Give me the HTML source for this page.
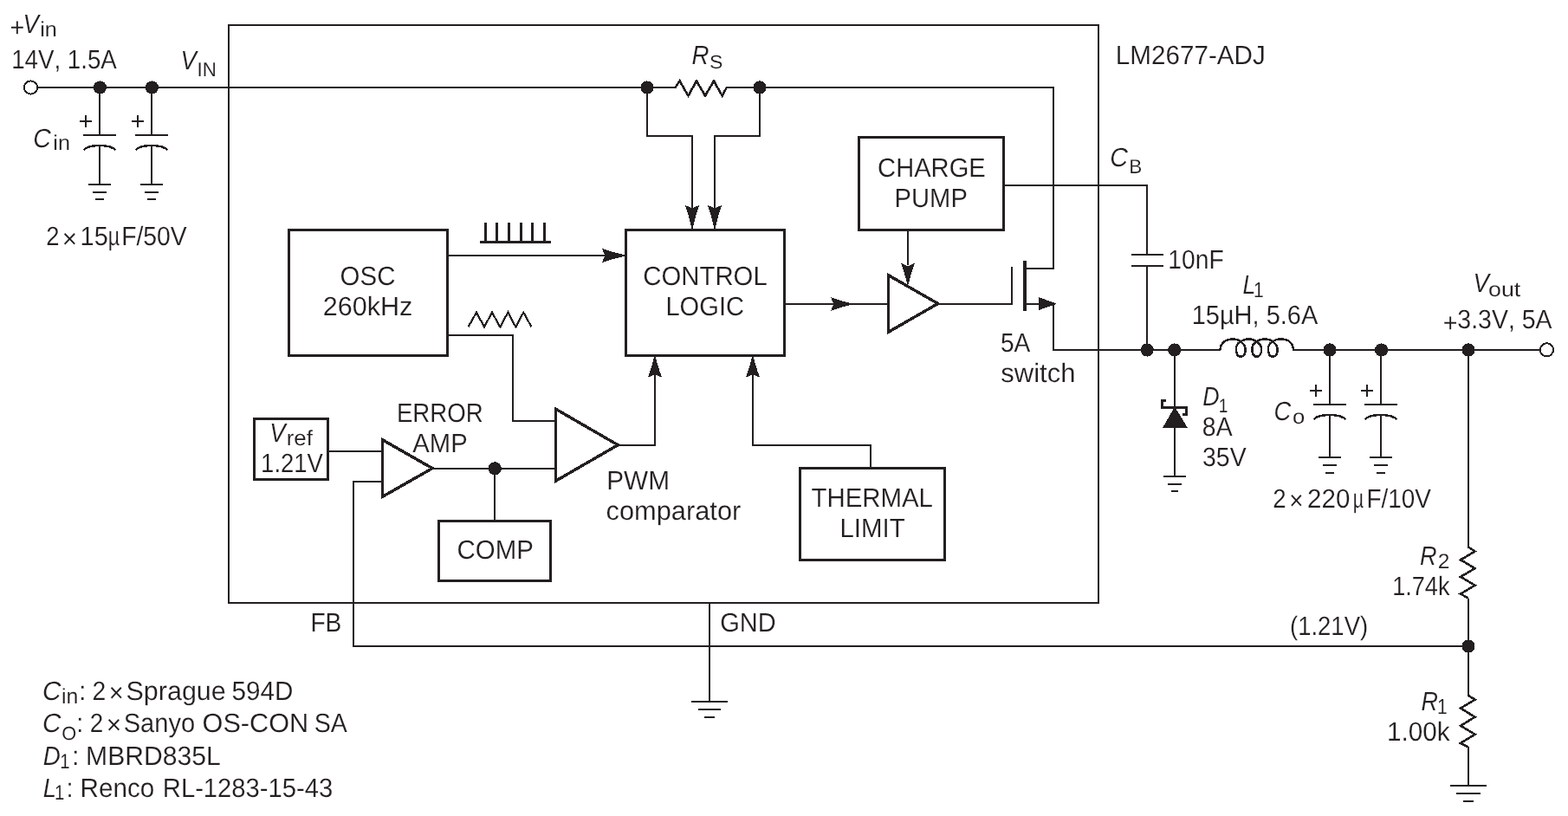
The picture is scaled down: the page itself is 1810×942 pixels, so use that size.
<!DOCTYPE html>
<html lang="en">
<head>
<meta charset="utf-8">
<title>LM2677-ADJ buck regulator block diagram</title>
<style>
html,body{margin:0;padding:0;background:#fff;}
body{width:1810px;height:942px;overflow:hidden;}
svg{display:block;will-change:transform;}
svg text{font-family:"Liberation Sans",sans-serif;font-size:30.6px;font-kerning:none;white-space:pre;text-rendering:geometricPrecision;fill:#231f20;stroke:#fff;stroke-width:0.15px;}
</style>
</head>
<body>
<svg width="1810" height="942" viewBox="0 0 1810 942" fill="none" stroke="#231f20" stroke-linecap="butt" stroke-linejoin="miter" shape-rendering="crispEdges">
<rect x="0" y="0" width="1810" height="942" fill="#fff" stroke="none"/>
<rect x="264" y="29" width="1004" height="667" stroke-width="2"/>
<path d="M43,101 L780,101" stroke-width="2"/>
<path d="M779.5,101 L784.6,93.4 L794.5,110.6 L804,93.4 L814,110.6 L824,93.4 L833.7,110.6 L838.8,101" stroke-width="2.6" stroke-linejoin="miter" stroke-miterlimit="10"/>
<path d="M838,101 L1216,101 L1216,310 L1183,310" stroke-width="2"/>
<circle cx="35.5" cy="101" r="7.6" fill="#fff" stroke-width="2"/>
<path d="M115,101 L115,156" stroke-width="2"/>
<path d="M96,156 L134,156" stroke-width="2"/>
<path d="M96.6,173.3 A19,7 0 0 1 133.4,173.3" stroke-width="2.4"/>
<path d="M115,167.5 L115,213" stroke-width="2"/>
<path d="M102,213 L128,213" stroke-width="2"/>
<path d="M107,221.7 L123,221.7" stroke-width="2"/>
<path d="M110,230.4 L120,230.4" stroke-width="2"/>
<path d="M92,140 L106,140" stroke-width="2"/>
<path d="M99,133 L99,147" stroke-width="2"/>
<path d="M175,101 L175,156" stroke-width="2"/>
<path d="M156,156 L194,156" stroke-width="2"/>
<path d="M156.6,173.3 A19,7 0 0 1 193.4,173.3" stroke-width="2.4"/>
<path d="M175,167.5 L175,213" stroke-width="2"/>
<path d="M162,213 L188,213" stroke-width="2"/>
<path d="M167,221.7 L183,221.7" stroke-width="2"/>
<path d="M170,230.4 L180,230.4" stroke-width="2"/>
<path d="M152,140 L166,140" stroke-width="2"/>
<path d="M159,133 L159,147" stroke-width="2"/>
<circle cx="115.4" cy="101" r="7.6" fill="#231f20" stroke="none"/>
<circle cx="175.4" cy="101" r="7.6" fill="#231f20" stroke="none"/>
<path d="M747,101 L747,157 L799,157 L799,240" stroke-width="2"/>
<path d="M877,101 L877,157 L825,157 L825,240" stroke-width="2"/>
<circle cx="746.9" cy="101" r="7.6" fill="#231f20" stroke="none"/>
<circle cx="877" cy="101" r="7.6" fill="#231f20" stroke="none"/>
<path d="M798.2,263.5 Q795.9,251.57 791,237 L799,240.4 L807,237 Q802.1,251.57 799.8,263.5 Z" fill="#231f20" stroke="none"/>
<path d="M824.2,263.5 Q821.9,251.57 817,237 L825,240.4 L833,237 Q828.1,251.57 825.8,263.5 Z" fill="#231f20" stroke="none"/>
<rect x="333.5" y="265.5" width="183" height="145" stroke-width="3"/>
<rect x="722.5" y="265.5" width="183" height="145" stroke-width="3"/>
<rect x="991.5" y="158.5" width="167" height="107" stroke-width="3"/>
<rect x="293.5" y="483.5" width="85" height="70" stroke-width="3"/>
<rect x="506.5" y="601.5" width="129" height="69" stroke-width="3"/>
<rect x="923.5" y="540.5" width="167" height="106" stroke-width="3"/>
<path d="M518,295 L698,295" stroke-width="2"/>
<path d="M721.5,295.8 Q709.58,298.1 695,303 L698.4,295 L695,287 Q709.58,291.9 721.5,294.2 Z" fill="#231f20" stroke="none"/>
<path d="M554,279.5 L636,279.5" stroke-width="3"/>
<path d="M560.5,257 L560.5,279" stroke-width="3"/>
<path d="M573.5,257 L573.5,279" stroke-width="3"/>
<path d="M587.5,257 L587.5,279" stroke-width="3"/>
<path d="M601.5,257 L601.5,279" stroke-width="3"/>
<path d="M614.5,257 L614.5,279" stroke-width="3"/>
<path d="M628.5,257 L628.5,279" stroke-width="3"/>
<path d="M540.5,377.5 L550,360.6 L559,377.5 L568,360.6 L577.3,377.5 L586.4,360.6 L595.3,377.5 L604.3,360.6 L613.5,377.5" stroke-width="2.2" stroke-linejoin="miter" stroke-miterlimit="10"/>
<path d="M518,387 L592,387 L592,486 L640,486" stroke-width="2"/>
<path d="M380,521 L440,521" stroke-width="2"/>
<polygon points="441.5,507.7 441.5,573.4 499.1,540.6" stroke-width="3.4"/>
<path d="M501,541 L640,541" stroke-width="2"/>
<path d="M571,541 L571,600" stroke-width="2"/>
<circle cx="571.3" cy="540.8" r="7.6" fill="#231f20" stroke="none"/>
<path d="M440,556 L408,556 L408,746 L1695,746" stroke-width="2"/>
<polygon points="641.5,472.2 641.5,555.2 713.3,513.7" stroke-width="3.4"/>
<path d="M715,514 L756,514 L756,432" stroke-width="2"/>
<path d="M756.8,411.5 Q759.1,422.39 764,435.7 L756,432.3 L748,435.7 Q752.9,422.39 755.2,411.5 Z" fill="#231f20" stroke="none"/>
<path d="M1005,539 L1005,514 L869,514 L869,432" stroke-width="2"/>
<path d="M869.8,411.5 Q872.1,422.39 877,435.7 L869,432.3 L861,435.7 Q865.9,422.39 868.2,411.5 Z" fill="#231f20" stroke="none"/>
<path d="M907,351 L1024,351" stroke-width="2"/>
<path d="M982.5,351.8 Q971.88,354.1 958.9,359 L962.3,351 L958.9,343 Q971.88,347.9 982.5,350.2 Z" fill="#231f20" stroke="none"/>
<polygon points="1025.5,317.7 1025.5,383.3 1082.7,350.5" stroke-width="3.4"/>
<path d="M1084,351 L1168,351 L1168,308" stroke-width="2"/>
<path d="M1048,267 L1048,306" stroke-width="2"/>
<path d="M1047.2,328.2 Q1044.9,317.22 1040,303.8 L1048,307.2 L1056,303.8 Q1051.1,317.22 1048.8,328.2 Z" fill="#231f20" stroke="none"/>
<path d="M1183,301 L1183,359" stroke-width="4"/>
<path d="M1185,351 L1200,351" stroke-width="2"/>
<polygon points="1199.2,343.2 1220,350.7 1199.2,358" fill="#231f20" stroke="none"/>
<path d="M1216,351 L1216,404 L1409,404" stroke-width="2"/>
<path d="M1160,214 L1324,214 L1324,294" stroke-width="2"/>
<path d="M1306,294 L1343,294" stroke-width="2"/>
<path d="M1306,307 L1343,307" stroke-width="2"/>
<path d="M1324,307 L1324,404" stroke-width="2"/>
<circle cx="1324.2" cy="404" r="7.6" fill="#231f20" stroke="none"/>
<circle cx="1355.8" cy="404" r="7.6" fill="#231f20" stroke="none"/>
<path d="M1408.5,404 C1409,395.5 1415,391.5 1423.5,391.5 C1430.3,391.5 1437.7,397 1437.7,403.5 C1437.7,408.5 1435.5,411.8 1432.3,411.8 C1429.1,411.8 1426.9,408.5 1426.9,402.5 C1426.9,396 1434.3,391.5 1441.7,391.5 C1448.8,391.5 1456.2,397 1456.2,403.5 C1456.2,408.5 1454,411.8 1450.8,411.8 C1447.6,411.8 1445.4,408.5 1445.4,402.5 C1445.4,396 1452.8,391.5 1460.5,391.5 C1467.3,391.5 1474.7,397 1474.7,403.5 C1474.7,408.5 1472.5,411.8 1469.3,411.8 C1466.1,411.8 1463.9,408.5 1463.9,402.5 C1463.9,396 1471.3,391.5 1478.6,391.5 C1486.5,391.5 1492.5,395.5 1493,404" stroke-width="2.5"/>
<path d="M1492,404 L1777,404" stroke-width="2"/>
<circle cx="1785.5" cy="403.8" r="7.6" fill="#fff" stroke-width="2"/>
<path d="M1535,404 L1535,467" stroke-width="2"/>
<path d="M1516,467 L1554,467" stroke-width="2"/>
<path d="M1516.6,484.3 A19,7 0 0 1 1553.4,484.3" stroke-width="2.4"/>
<path d="M1535,478.5 L1535,527.5" stroke-width="2"/>
<path d="M1521.7,527.5 L1548.3,527.5" stroke-width="2"/>
<path d="M1527.2,536.5 L1542.8,536.5" stroke-width="2"/>
<path d="M1530,545.5 L1540,545.5" stroke-width="2"/>
<path d="M1512,451 L1526,451" stroke-width="2"/>
<path d="M1519,444 L1519,458" stroke-width="2"/>
<path d="M1594,404 L1594,467" stroke-width="2"/>
<path d="M1575,467 L1613,467" stroke-width="2"/>
<path d="M1575.6,484.3 A19,7 0 0 1 1612.4,484.3" stroke-width="2.4"/>
<path d="M1594,478.5 L1594,527.5" stroke-width="2"/>
<path d="M1580.7,527.5 L1607.3,527.5" stroke-width="2"/>
<path d="M1586.2,536.5 L1601.8,536.5" stroke-width="2"/>
<path d="M1589,545.5 L1599,545.5" stroke-width="2"/>
<path d="M1571,451 L1585,451" stroke-width="2"/>
<path d="M1578,444 L1578,458" stroke-width="2"/>
<circle cx="1535" cy="404" r="7.6" fill="#231f20" stroke="none"/>
<circle cx="1594.6" cy="404" r="7.6" fill="#231f20" stroke="none"/>
<path d="M1356,404 L1356,471" stroke-width="2"/>
<path d="M1345.5,462.5 L1341.5,462.5 L1341.5,470.5 L1369.5,470.5 L1369.5,478.5 L1365,478.5" stroke-width="3"/>
<polygon points="1356,469.5 1342,494 1371,494" fill="#231f20" stroke="none"/>
<path d="M1356,493 L1356,549.5" stroke-width="2"/>
<path d="M1343.2,549.5 L1368.8,549.5" stroke-width="2"/>
<path d="M1348,558.5 L1364,558.5" stroke-width="2"/>
<path d="M1351.7,567.2 L1360.3,567.2" stroke-width="2"/>
<path d="M1695,404 L1695,632" stroke-width="2"/>
<path d="M1695,631.5 L1702.6,636.5 L1686,646.3 L1702.6,656.1 L1686,665.9 L1702.6,675.7 L1686,685.5 L1695,690.8" stroke-width="2.6" stroke-linejoin="miter" stroke-miterlimit="10"/>
<path d="M1695,690.5 L1695,803.5" stroke-width="2"/>
<path d="M1695,803 L1702.6,807.6 L1686,817.6 L1702.6,827.7 L1686,837.8 L1702.6,847.8 L1686,857.9 L1695,862.4" stroke-width="2.6" stroke-linejoin="miter" stroke-miterlimit="10"/>
<path d="M1695,862 L1695,907" stroke-width="2"/>
<path d="M1674,907 L1716,907" stroke-width="2"/>
<path d="M1681.2,916 L1708.8,916" stroke-width="2"/>
<path d="M1689,925 L1701,925" stroke-width="2"/>
<circle cx="1695" cy="404" r="7.6" fill="#231f20" stroke="none"/>
<circle cx="1695" cy="746" r="7.6" fill="#231f20" stroke="none"/>
<path d="M819,697 L819,810" stroke-width="2"/>
<path d="M798,810 L840,810" stroke-width="2"/>
<path d="M805.6,819 L832.4,819" stroke-width="2"/>
<path d="M813,828 L825,828" stroke-width="2"/>
<text><tspan x="11.49" y="41.5" textLength="16.83" lengthAdjust="spacingAndGlyphs">+</tspan><tspan x="26.52" y="38.4" textLength="18.34" lengthAdjust="spacingAndGlyphs" font-style="italic">V</tspan><tspan x="46.21" y="42.4" textLength="19.62" lengthAdjust="spacingAndGlyphs" font-size="24.4" style="stroke-width:0.1px">in</tspan></text>
<text x="13.19" y="79.4" textLength="121.56" lengthAdjust="spacingAndGlyphs">14V, 1.5A</text>
<text><tspan x="208.52" y="80.1" textLength="18.34" lengthAdjust="spacingAndGlyphs" font-style="italic">V</tspan><tspan x="227.54" y="88.4" textLength="22.27" lengthAdjust="spacingAndGlyphs" font-size="23.1" style="stroke-width:0.1px">IN</tspan></text>
<text><tspan x="38.23" y="169.6" textLength="20.51" lengthAdjust="spacingAndGlyphs" font-style="italic">C</tspan><tspan x="61.31" y="173.2" textLength="19.62" lengthAdjust="spacingAndGlyphs" font-size="24.4" style="stroke-width:0.1px">in</tspan></text>
<text><tspan x="53.32" y="283.4" textLength="15.26" lengthAdjust="spacingAndGlyphs">2</tspan><tspan x="71.75" y="285.8" textLength="17.29" lengthAdjust="spacingAndGlyphs">×</tspan><tspan x="92.6" y="283.4" textLength="32.11" lengthAdjust="spacingAndGlyphs">15</tspan><tspan x="124.71" y="283.4" textLength="13.43" lengthAdjust="spacingAndGlyphs">µ</tspan><tspan x="140.18" y="283.4" textLength="75.55" lengthAdjust="spacingAndGlyphs">F/50V</tspan></text>
<text><tspan x="798.45" y="73.9" textLength="20" lengthAdjust="spacingAndGlyphs" font-style="italic">R</tspan><tspan x="818.95" y="79" textLength="15.41" lengthAdjust="spacingAndGlyphs" font-size="22" style="stroke-width:0.1px">S</tspan></text>
<text x="1287.87" y="74.1" textLength="172.93" lengthAdjust="spacingAndGlyphs">LM2677-ADJ</text>
<text><tspan x="1281.22" y="192" textLength="20.62" lengthAdjust="spacingAndGlyphs" font-style="italic">C</tspan><tspan x="1303.15" y="200.3" textLength="15.04" lengthAdjust="spacingAndGlyphs" font-size="23" style="stroke-width:0.1px">B</tspan></text>
<text x="1348.35" y="310.1" textLength="64.28" lengthAdjust="spacingAndGlyphs">10nF</text>
<text x="1013.12" y="204.1" textLength="124.63" lengthAdjust="spacingAndGlyphs">CHARGE</text>
<text x="1032.61" y="239.2" textLength="84.23" lengthAdjust="spacingAndGlyphs">PUMP</text>
<text x="392.61" y="329.1" textLength="63.82" lengthAdjust="spacingAndGlyphs">OSC</text>
<text x="372.76" y="364.1" textLength="103.66" lengthAdjust="spacingAndGlyphs">260kHz</text>
<text x="742.31" y="329.4" textLength="143.46" lengthAdjust="spacingAndGlyphs">CONTROL</text>
<text x="768.41" y="364" textLength="90.6" lengthAdjust="spacingAndGlyphs">LOGIC</text>
<text><tspan x="311.22" y="510.1" textLength="18.34" lengthAdjust="spacingAndGlyphs" font-style="italic">V</tspan><tspan x="330.68" y="514.2" textLength="30.18" lengthAdjust="spacingAndGlyphs" font-size="24.6" style="stroke-width:0.1px">ref</tspan></text>
<text x="301.11" y="545.4" textLength="71.81" lengthAdjust="spacingAndGlyphs">1.21V</text>
<text x="457.93" y="487.1" textLength="99.85" lengthAdjust="spacingAndGlyphs">ERROR</text>
<text x="476.34" y="522" textLength="63.3" lengthAdjust="spacingAndGlyphs">AMP</text>
<text x="527.5" y="645" textLength="88.35" lengthAdjust="spacingAndGlyphs">COMP</text>
<text x="700.26" y="565.2" textLength="72.68" lengthAdjust="spacingAndGlyphs">PWM</text>
<text x="699.49" y="599.6" textLength="155.82" lengthAdjust="spacingAndGlyphs">comparator</text>
<text x="936.44" y="585.4" textLength="140.54" lengthAdjust="spacingAndGlyphs">THERMAL</text>
<text x="969.49" y="620.1" textLength="75.19" lengthAdjust="spacingAndGlyphs">LIMIT</text>
<text x="1154.97" y="406.1" textLength="34.38" lengthAdjust="spacingAndGlyphs">5A</text>
<text x="1155.24" y="441.2" textLength="86.28" lengthAdjust="spacingAndGlyphs">switch</text>
<text><tspan x="1434.58" y="339" textLength="14.77" lengthAdjust="spacingAndGlyphs" font-style="italic">L</tspan><tspan x="1446.99" y="343.1" textLength="11.72" lengthAdjust="spacingAndGlyphs" font-size="24.8" style="stroke-width:0.1px">1</tspan></text>
<text x="1375.69" y="374.1" textLength="145.56" lengthAdjust="spacingAndGlyphs">15µH, 5.6A</text>
<text><tspan x="1388.27" y="467.8" textLength="19.39" lengthAdjust="spacingAndGlyphs" font-style="italic">D</tspan><tspan x="1406.74" y="475.6" textLength="10.64" lengthAdjust="spacingAndGlyphs" font-size="22.5" style="stroke-width:0.1px">1</tspan></text>
<text x="1387.87" y="503.1" textLength="34.69" lengthAdjust="spacingAndGlyphs">8A</text>
<text x="1388.02" y="537.7" textLength="50.61" lengthAdjust="spacingAndGlyphs">35V</text>
<text><tspan x="1470.4" y="485.2" textLength="19.66" lengthAdjust="spacingAndGlyphs" font-style="italic">C</tspan><tspan x="1491.92" y="489" textLength="14.25" lengthAdjust="spacingAndGlyphs" font-size="23.9" style="stroke-width:0.1px">o</tspan></text>
<text><tspan x="1469.21" y="585.7" textLength="15.38" lengthAdjust="spacingAndGlyphs">2</tspan><tspan x="1488.27" y="588.1" textLength="16.24" lengthAdjust="spacingAndGlyphs">×</tspan><tspan x="1509.11" y="585.7" textLength="49.34" lengthAdjust="spacingAndGlyphs">220</tspan><tspan x="1561.63" y="585.7" textLength="12.36" lengthAdjust="spacingAndGlyphs">µ</tspan><tspan x="1577.41" y="585.7" textLength="74.51" lengthAdjust="spacingAndGlyphs">F/10V</tspan></text>
<text><tspan x="1700.41" y="337.4" textLength="18.44" lengthAdjust="spacingAndGlyphs" font-style="italic">V</tspan><tspan x="1718.08" y="342.1" textLength="37.22" lengthAdjust="spacingAndGlyphs" font-size="23.5" style="stroke-width:0.1px">out</tspan></text>
<text><tspan x="1665.7" y="382.5" textLength="16.71" lengthAdjust="spacingAndGlyphs">+</tspan><tspan x="1682.32" y="379.2" textLength="109.24" lengthAdjust="spacingAndGlyphs">3.3V, 5A</tspan></text>
<text><tspan x="1639.07" y="652.4" textLength="19.57" lengthAdjust="spacingAndGlyphs" font-style="italic">R</tspan><tspan x="1659.76" y="655.9" textLength="13.67" lengthAdjust="spacingAndGlyphs" font-size="24.1" style="stroke-width:0.1px">2</tspan></text>
<text x="1607.13" y="687" textLength="66.33" lengthAdjust="spacingAndGlyphs">1.74k</text>
<text x="1489" y="733" textLength="90.11" lengthAdjust="spacingAndGlyphs">(1.21V)</text>
<text><tspan x="1640.57" y="820" textLength="19.46" lengthAdjust="spacingAndGlyphs" font-style="italic">R</tspan><tspan x="1658.99" y="824.2" textLength="11.72" lengthAdjust="spacingAndGlyphs" font-size="24.8" style="stroke-width:0.1px">1</tspan></text>
<text x="1600.93" y="854.8" textLength="72.82" lengthAdjust="spacingAndGlyphs">1.00k</text>
<text x="358.39" y="728.9" textLength="36" lengthAdjust="spacingAndGlyphs">FB</text>
<text x="831.14" y="729.1" textLength="64.55" lengthAdjust="spacingAndGlyphs">GND</text>
<text><tspan x="49.07" y="807.7" textLength="21.37" lengthAdjust="spacingAndGlyphs" font-style="italic">C</tspan><tspan x="71.14" y="811.9" textLength="19.26" lengthAdjust="spacingAndGlyphs" font-size="24.6" style="stroke-width:0.1px">in</tspan><tspan x="91.16" y="807.7" textLength="8.03" lengthAdjust="spacingAndGlyphs">:</tspan><tspan x="98.61" y="807.7" textLength="23.62" lengthAdjust="spacingAndGlyphs"> 2</tspan><tspan x="125.79" y="810.1" textLength="16.9" lengthAdjust="spacingAndGlyphs">×</tspan><tspan x="145.52" y="807.7" textLength="115.24" lengthAdjust="spacingAndGlyphs">Sprague</tspan><tspan x="259.27" y="807.7" textLength="79.15" lengthAdjust="spacingAndGlyphs"> 594D</tspan></text>
<text><tspan x="49.07" y="845" textLength="21.37" lengthAdjust="spacingAndGlyphs" font-style="italic">C</tspan><tspan x="71.27" y="853.5" textLength="16.98" lengthAdjust="spacingAndGlyphs" font-size="21.8" style="stroke-width:0.1px">O</tspan><tspan x="88.36" y="845" textLength="8.03" lengthAdjust="spacingAndGlyphs">:</tspan><tspan x="95.95" y="845" textLength="23.25" lengthAdjust="spacingAndGlyphs"> 2</tspan><tspan x="122.73" y="847.4" textLength="17.42" lengthAdjust="spacingAndGlyphs">×</tspan><tspan x="142.68" y="845" textLength="82.44" lengthAdjust="spacingAndGlyphs">Sanyo</tspan><tspan x="225.03" y="845" textLength="131.17" lengthAdjust="spacingAndGlyphs"> OS-CON</tspan><tspan x="354.75" y="845" textLength="46.1" lengthAdjust="spacingAndGlyphs"> SA</tspan></text>
<text><tspan x="49.85" y="882.8" textLength="20.05" lengthAdjust="spacingAndGlyphs" font-style="italic">D</tspan><tspan x="69.35" y="886.5" textLength="11.35" lengthAdjust="spacingAndGlyphs" font-size="24" style="stroke-width:0.1px">1</tspan><tspan x="83.36" y="882.8" textLength="8.03" lengthAdjust="spacingAndGlyphs">:</tspan><tspan x="90.76" y="882.8" textLength="164.04" lengthAdjust="spacingAndGlyphs"> MBRD835L</tspan></text>
<text><tspan x="49.86" y="919.8" textLength="15.26" lengthAdjust="spacingAndGlyphs" font-style="italic">L</tspan><tspan x="63.05" y="923.4" textLength="11.35" lengthAdjust="spacingAndGlyphs" font-size="24" style="stroke-width:0.1px">1</tspan><tspan x="76.56" y="919.8" textLength="8.03" lengthAdjust="spacingAndGlyphs">:</tspan><tspan x="84.33" y="919.8" textLength="93.91" lengthAdjust="spacingAndGlyphs"> Renco</tspan><tspan x="179.69" y="919.8" textLength="204.6" lengthAdjust="spacingAndGlyphs"> RL-1283-15-43</tspan></text>
</svg>
</body>
</html>
